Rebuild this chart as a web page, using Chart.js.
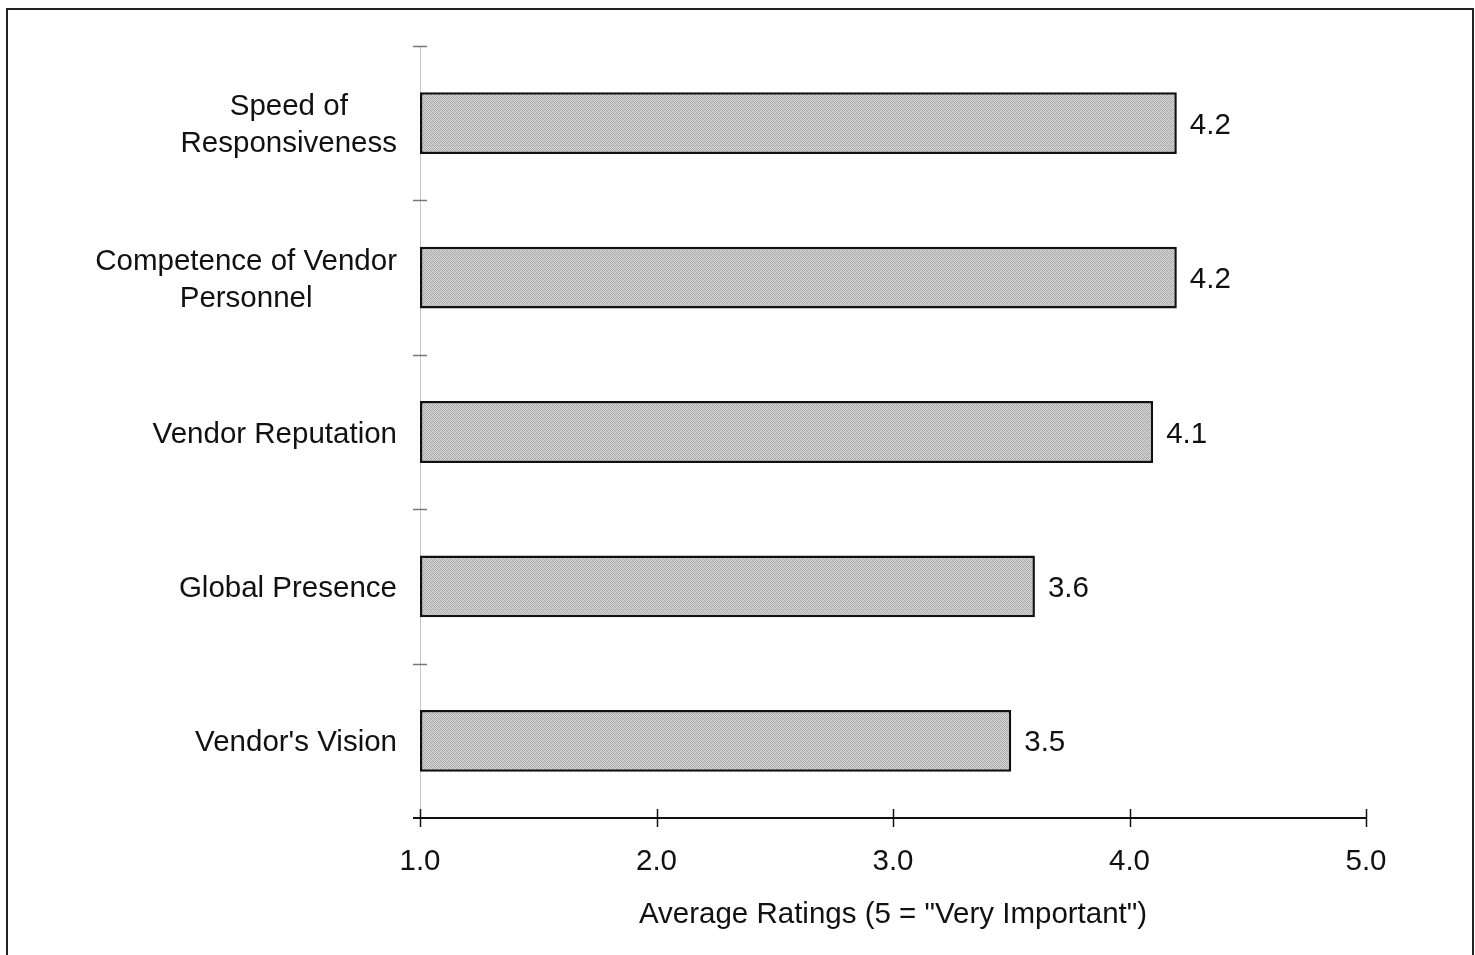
<!DOCTYPE html>
<html>
<head>
<meta charset="utf-8">
<script src="https://cdn.jsdelivr.net/npm/chart.js@4.4.1/dist/chart.umd.min.js"></script>
<style>
  html, body { margin: 0; padding: 0; background: #fff; }
  #wrap { width: 1475px; height: 955px; position: relative; }
</style>
</head>
<body>
<div id="wrap"><canvas id="ratingsChart"></canvas></div>
<script>
// -------------------------------
// Data
// -------------------------------
const categories = [
  ["Speed of", "Responsiveness"],
  ["Competence of Vendor", "Personnel"],
  ["Vendor Reputation"],
  ["Global Presence"],
  ["Vendor's Vision"],
];
const ratings = [4.2, 4.2, 4.1, 3.6, 3.5];
const xTicks = [1.0, 2.0, 3.0, 4.0, 5.0];
const axisTitle = 'Average Ratings (5 = "Very Important")';

const FONT = "'Liberation Sans', Arial, sans-serif";
const FONT_SIZE = 29.5;
const INK = "#111";

// -------------------------------
// Helpers
// -------------------------------
// small stipple tile used as the bar fill
function makeStipple() {
  const tile = document.createElement("canvas");
  tile.width = 4;
  tile.height = 4;
  const tctx = tile.getContext("2d");
  const shades = [
    ["#acacac", "#d4d4d4", "#b8b8b8", "#d8d8d8"],
    ["#d0d0d0", "#a2a2a2", "#d2d2d2", "#b2b2b2"],
    ["#b6b6b6", "#d8d8d8", "#aaaaaa", "#cecece"],
    ["#d4d4d4", "#b8b8b8", "#d0d0d0", "#a8a8a8"],
  ];
  shades.forEach((row, y) =>
    row.forEach((c, x) => {
      tctx.fillStyle = c;
      tctx.fillRect(x, y, 1, 1);
    })
  );
  return tctx.createPattern(tile, "repeat");
}

// page frame + white background
const framePlugin = {
  id: "frame",
  beforeDraw(chart) {
    const { ctx, width, height } = chart;
    ctx.save();
    ctx.fillStyle = "#fff";
    ctx.fillRect(0, 0, width, height);
    ctx.strokeStyle = "#222";
    ctx.lineWidth = 2;
    ctx.strokeRect(7, 9, width - 9, height + 10);
    ctx.restore();
  },
};

// axis lines, tick marks, category labels, value labels
const decorPlugin = {
  id: "decor",
  afterDraw(chart) {
    const { ctx } = chart;
    const xs = chart.scales.x;
    const ys = chart.scales.y;
    const area = chart.chartArea;
    ctx.save();

    // category boundary ticks on the category axis
    ctx.strokeStyle = "#777";
    ctx.lineWidth = 1.5;
    for (let i = 0; i < categories.length; i++) {
      const y = Math.round(ys.getPixelForValue(i - 0.5)) + 0.5;
      ctx.beginPath();
      ctx.moveTo(area.left - 7, y);
      ctx.lineTo(area.left + 7, y);
      ctx.stroke();
    }

    // bottom axis line and ticks
    const axisY = area.bottom;
    ctx.strokeStyle = "#111";
    ctx.lineWidth = 2;
    ctx.beginPath();
    ctx.moveTo(area.left - 7, axisY);
    ctx.lineTo(area.right, axisY);
    ctx.stroke();
    ctx.lineWidth = 1.5;
    xTicks.forEach((t) => {
      const x = Math.round(xs.getPixelForValue(t)) + 0.5;
      ctx.beginPath();
      ctx.moveTo(x, axisY - 9);
      ctx.lineTo(x, axisY + 9);
      ctx.stroke();
    });

    // category labels: block right-aligned, lines centred within it
    ctx.font = `${FONT_SIZE}px ${FONT}`;
    ctx.fillStyle = INK;
    ctx.textAlign = "center";
    ctx.textBaseline = "middle";
    const lineH = 37;
    const rightEdge = area.left - 23;
    categories.forEach((lines, i) => {
      const cy = ys.getPixelForValue(i) + 2.5;
      const blockW = Math.max(...lines.map((l) => ctx.measureText(l).width));
      const cx = rightEdge - blockW / 2;
      const y0 = cy - ((lines.length - 1) * lineH) / 2;
      lines.forEach((l, k) => ctx.fillText(l, cx, y0 + k * lineH));
    });

    // value labels at bar ends
    ctx.textAlign = "left";
    const meta = chart.getDatasetMeta(0);
    meta.data.forEach((bar, i) => {
      ctx.fillText(ratings[i].toFixed(1), bar.x + 13, bar.y + 2.5);
    });

    ctx.restore();
  },
};

// -------------------------------
// Chart
// -------------------------------
const ctx = document.getElementById("ratingsChart").getContext("2d");
new Chart(ctx, {
  type: "bar",
  data: {
    labels: categories.map((c) => c.join(" ")),
    datasets: [
      {
        data: ratings,
        base: 1,
        backgroundColor: makeStipple(),
        borderColor: "#111",
        borderWidth: 2.5,
        borderSkipped: false,
        barPercentage: 0.4,
        categoryPercentage: 1.0,
        clip: false,
      },
    ],
  },
  options: {
    indexAxis: "y",
    responsive: true,
    maintainAspectRatio: false,
    animation: false,
    layout: { padding: { top: 46, right: 109, left: 0, bottom: 0 } },
    plugins: {
      legend: { display: false },
      tooltip: { enabled: false },
    },
    scales: {
      x: {
        type: "linear",
        min: 1,
        max: 5,
        afterFit: (scale) => { scale.height = 137; },
        afterBuildTicks: (scale) => {
          scale.ticks = xTicks.map((v) => ({ value: v }));
        },
        grid: { display: false, drawTicks: false },
        border: { display: false },
        ticks: {
          padding: 26,
          color: INK,
          font: { family: FONT, size: FONT_SIZE },
          callback: (v) => Number(v).toFixed(1),
        },
        title: {
          display: true,
          text: axisTitle,
          color: INK,
          font: { family: FONT, size: FONT_SIZE },
          padding: { top: 4, bottom: 22 },
        },
      },
      y: {
        type: "category",
        offset: true,
        afterFit: (scale) => { scale.width = 420; },
        grid: { display: false, drawTicks: false },
        border: { display: true, color: "#c8c8c8", width: 1 },
        ticks: { display: false },
      },
    },
  },
  plugins: [framePlugin, decorPlugin],
});
</script>
</body>
</html>
